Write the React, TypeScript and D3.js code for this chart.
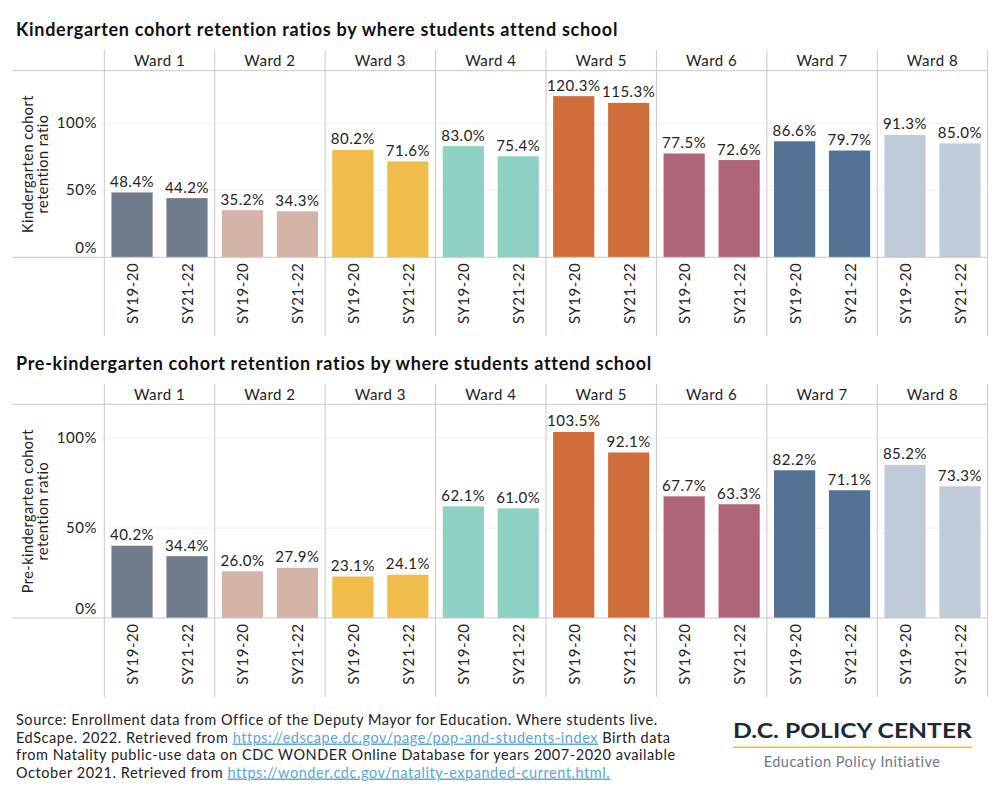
import * as d3 from "d3";

const WARDS = ["Ward 1", "Ward 2", "Ward 3", "Ward 4", "Ward 5", "Ward 6", "Ward 7", "Ward 8"];
const YEARS = ["SY19-20", "SY21-22"];

const K_SY1920 = [48.4, 35.2, 80.2, 83.0, 120.3, 77.5, 86.6, 91.3];
const K_SY2122 = [44.2, 34.3, 71.6, 75.4, 115.3, 72.6, 79.7, 85.0];
const PK_SY1920 = [40.2, 26.0, 23.1, 62.1, 103.5, 67.7, 82.2, 85.2];
const PK_SY2122 = [34.4, 27.9, 24.1, 61.0, 92.1, 63.3, 71.1, 73.3];

const Y_TICKS = [0, 50, 100];

const WARD_COLOR = [
  "#6f7c8b",
  "#d4b4a6",
  "#f1bd4a",
  "#8ed0c4",
  "#d06e3b",
  "#b06478",
  "#537294",
  "#bfcbd8",
];

const FONT = "Lato, 'Open Sans', sans-serif";
const LINE = "#c9c9c9";
const GRID = "#efefef";
const TEXT = "#222";
const LS = 0.5;

const LEFT = 12;
const PANE_LEFT = 104.3;
const RIGHT = 987.7;

type PanelProps = {
  title: string;
  yTitle: string[];
  s1: number[];
  s2: number[];
  titleY: number;
  headerTop: number;
  plotTop: number;
  baseline: number;
  bottom: number;
  yMax: number;
};

function Panel({ title, yTitle, s1, s2, titleY, headerTop, plotTop, baseline, bottom, yMax }: PanelProps) {
  const x = d3.scaleBand<string>().domain(WARDS).range([PANE_LEFT, RIGHT]);
  const xi = d3
    .scaleBand<string>()
    .domain(YEARS)
    .range([0, x.bandwidth()])
    .paddingInner(0.25)
    .paddingOuter(0.13);
  const y = d3.scaleLinear().domain([0, yMax]).range([baseline, plotTop]);
  const midY = (plotTop + baseline) / 2;
  const edges = WARDS.map((w) => x(w)!).concat([RIGHT]);

  return (
    <g fontFamily={FONT} letterSpacing={LS}>
      <text x={16} y={titleY} fontSize={18} fontWeight={700} fill="#111" letterSpacing={0.7}>
        {title}
      </text>

      {/* grid */}
      {Y_TICKS.filter((t) => t > 0).map((t) => (
        <line key={t} x1={100} x2={RIGHT} y1={y(t)} y2={y(t)} stroke={GRID} />
      ))}

      {/* frame */}
      <line x1={LEFT} x2={RIGHT} y1={plotTop} y2={plotTop} stroke={LINE} />
      {edges.map((e, i) => (
        <line key={i} x1={e} x2={e} y1={headerTop} y2={bottom} stroke={LINE} />
      ))}

      {/* ward headers */}
      {WARDS.map((w) => (
        <text
          key={w}
          x={x(w)! + x.bandwidth() / 2}
          y={headerTop + 15.5}
          textAnchor="middle"
          fontSize={15}
          fill={TEXT}
        >
          {w}
        </text>
      ))}

      {/* y ticks */}
      {Y_TICKS.map((t) => (
        <text
          key={t}
          x={97}
          y={t === 0 ? y(t) - 4.5 : y(t) + 5}
          textAnchor="end"
          fontSize={15}
          fill={TEXT}
        >
          {t}%
        </text>
      ))}

      {/* y title */}
      <text
        transform={`translate(35,${midY}) rotate(-90)`}
        textAnchor="middle"
        fontSize={14.5}
        fill={TEXT}
      >
        {yTitle.map((l, i) => (
          <tspan key={i} x={0} dy={i === 0 ? -2.5 : 15.5}>
            {l}
          </tspan>
        ))}
      </text>

      {/* bars */}
      {WARDS.map((w, wi) =>
        [s1[wi], s2[wi]].map((v, si) => {
          const bx = x(w)! + xi(YEARS[si])!;
          const cx = bx + xi.bandwidth() / 2;
          return (
            <g key={`${w}-${si}`}>
              <rect
                x={bx}
                y={y(v)}
                width={xi.bandwidth()}
                height={baseline - y(v)}
                fill={WARD_COLOR[wi]}
              />
              <text x={cx} y={y(v) - 5.5} textAnchor="middle" fontSize={15} fill={TEXT}>
                {v.toFixed(1)}%
              </text>
              <text
                transform={`translate(${cx},${baseline + 5.5}) rotate(-90)`}
                textAnchor="end"
                dominantBaseline="central"
                fontSize={15}
                fill={TEXT}
              >
                {YEARS[si]}
              </text>
            </g>
          );
        })
      )}

      <line x1={LEFT} x2={RIGHT} y1={baseline} y2={baseline} stroke={LINE} />
    </g>
  );
}

const LINK = "#5aa6cf";

export default function App() {
  return (
    <div style={{ position: "absolute", left: 0, top: 0 }}>
      <svg width={1000} height={800} viewBox="0 0 1000 800" style={{ display: "block", background: "#fff" }}>
        <rect width={1000} height={800} fill="#fff" />
        <Panel
          title="Kindergarten cohort retention ratios by where students attend school"
          yTitle={["Kindergarten cohort", "retention ratio"]}
          s1={K_SY1920}
          s2={K_SY2122}
          titleY={36}
          headerTop={50}
          plotTop={70.7}
          baseline={257.3}
          bottom={336}
          yMax={139.3}
        />
        <Panel
          title="Pre-kindergarten cohort retention ratios by where students attend school"
          yTitle={["Pre-kindergarten cohort", "retention ratio"]}
          s1={PK_SY1920}
          s2={PK_SY2122}
          titleY={369.5}
          headerTop={384}
          plotTop={404.3}
          baseline={618}
          bottom={697}
          yMax={118.9}
        />

        {/* footer */}
        <g fontFamily={FONT} fontSize={14.5} fill={TEXT} letterSpacing={0.55}>
          <text x={16} y={725}>
            Source: Enrollment data from Office of the Deputy Mayor for Education. Where students live.
          </text>
          <text x={16} y={742.5}>
            EdScape. 2022. Retrieved from{" "}
            <tspan fill={LINK} textDecoration="underline">
              https://edscape.dc.gov/page/pop-and-students-index
            </tspan>{" "}
            Birth data
          </text>
          <text x={16} y={760}>
            from Natality public-use data on CDC WONDER Online Database for years 2007-2020 available
          </text>
          <text x={16} y={777.5}>
            October 2021. Retrieved from{" "}
            <tspan fill={LINK} textDecoration="underline">
              https://wonder.cdc.gov/natality-expanded-current.html.
            </tspan>
          </text>
        </g>

        {/* logo */}
        <g fontFamily={FONT}>
          <text
            x={733}
            y={738}
            fontSize={21}
            fontWeight={700}
            fill="#1c2b36"
            textLength={239}
            lengthAdjust="spacingAndGlyphs"
          >
            D.C. POLICY CENTER
          </text>
          <line x1={733} x2={972} y1={747.3} y2={747.3} stroke="#f5b93a" strokeWidth={1.6} />
          <text x={852} y={767} textAnchor="middle" fontSize={14.5} fill="#6b7888" letterSpacing={0.5}>
            Education Policy Initiative
          </text>
        </g>
      </svg>
    </div>
  );
}
